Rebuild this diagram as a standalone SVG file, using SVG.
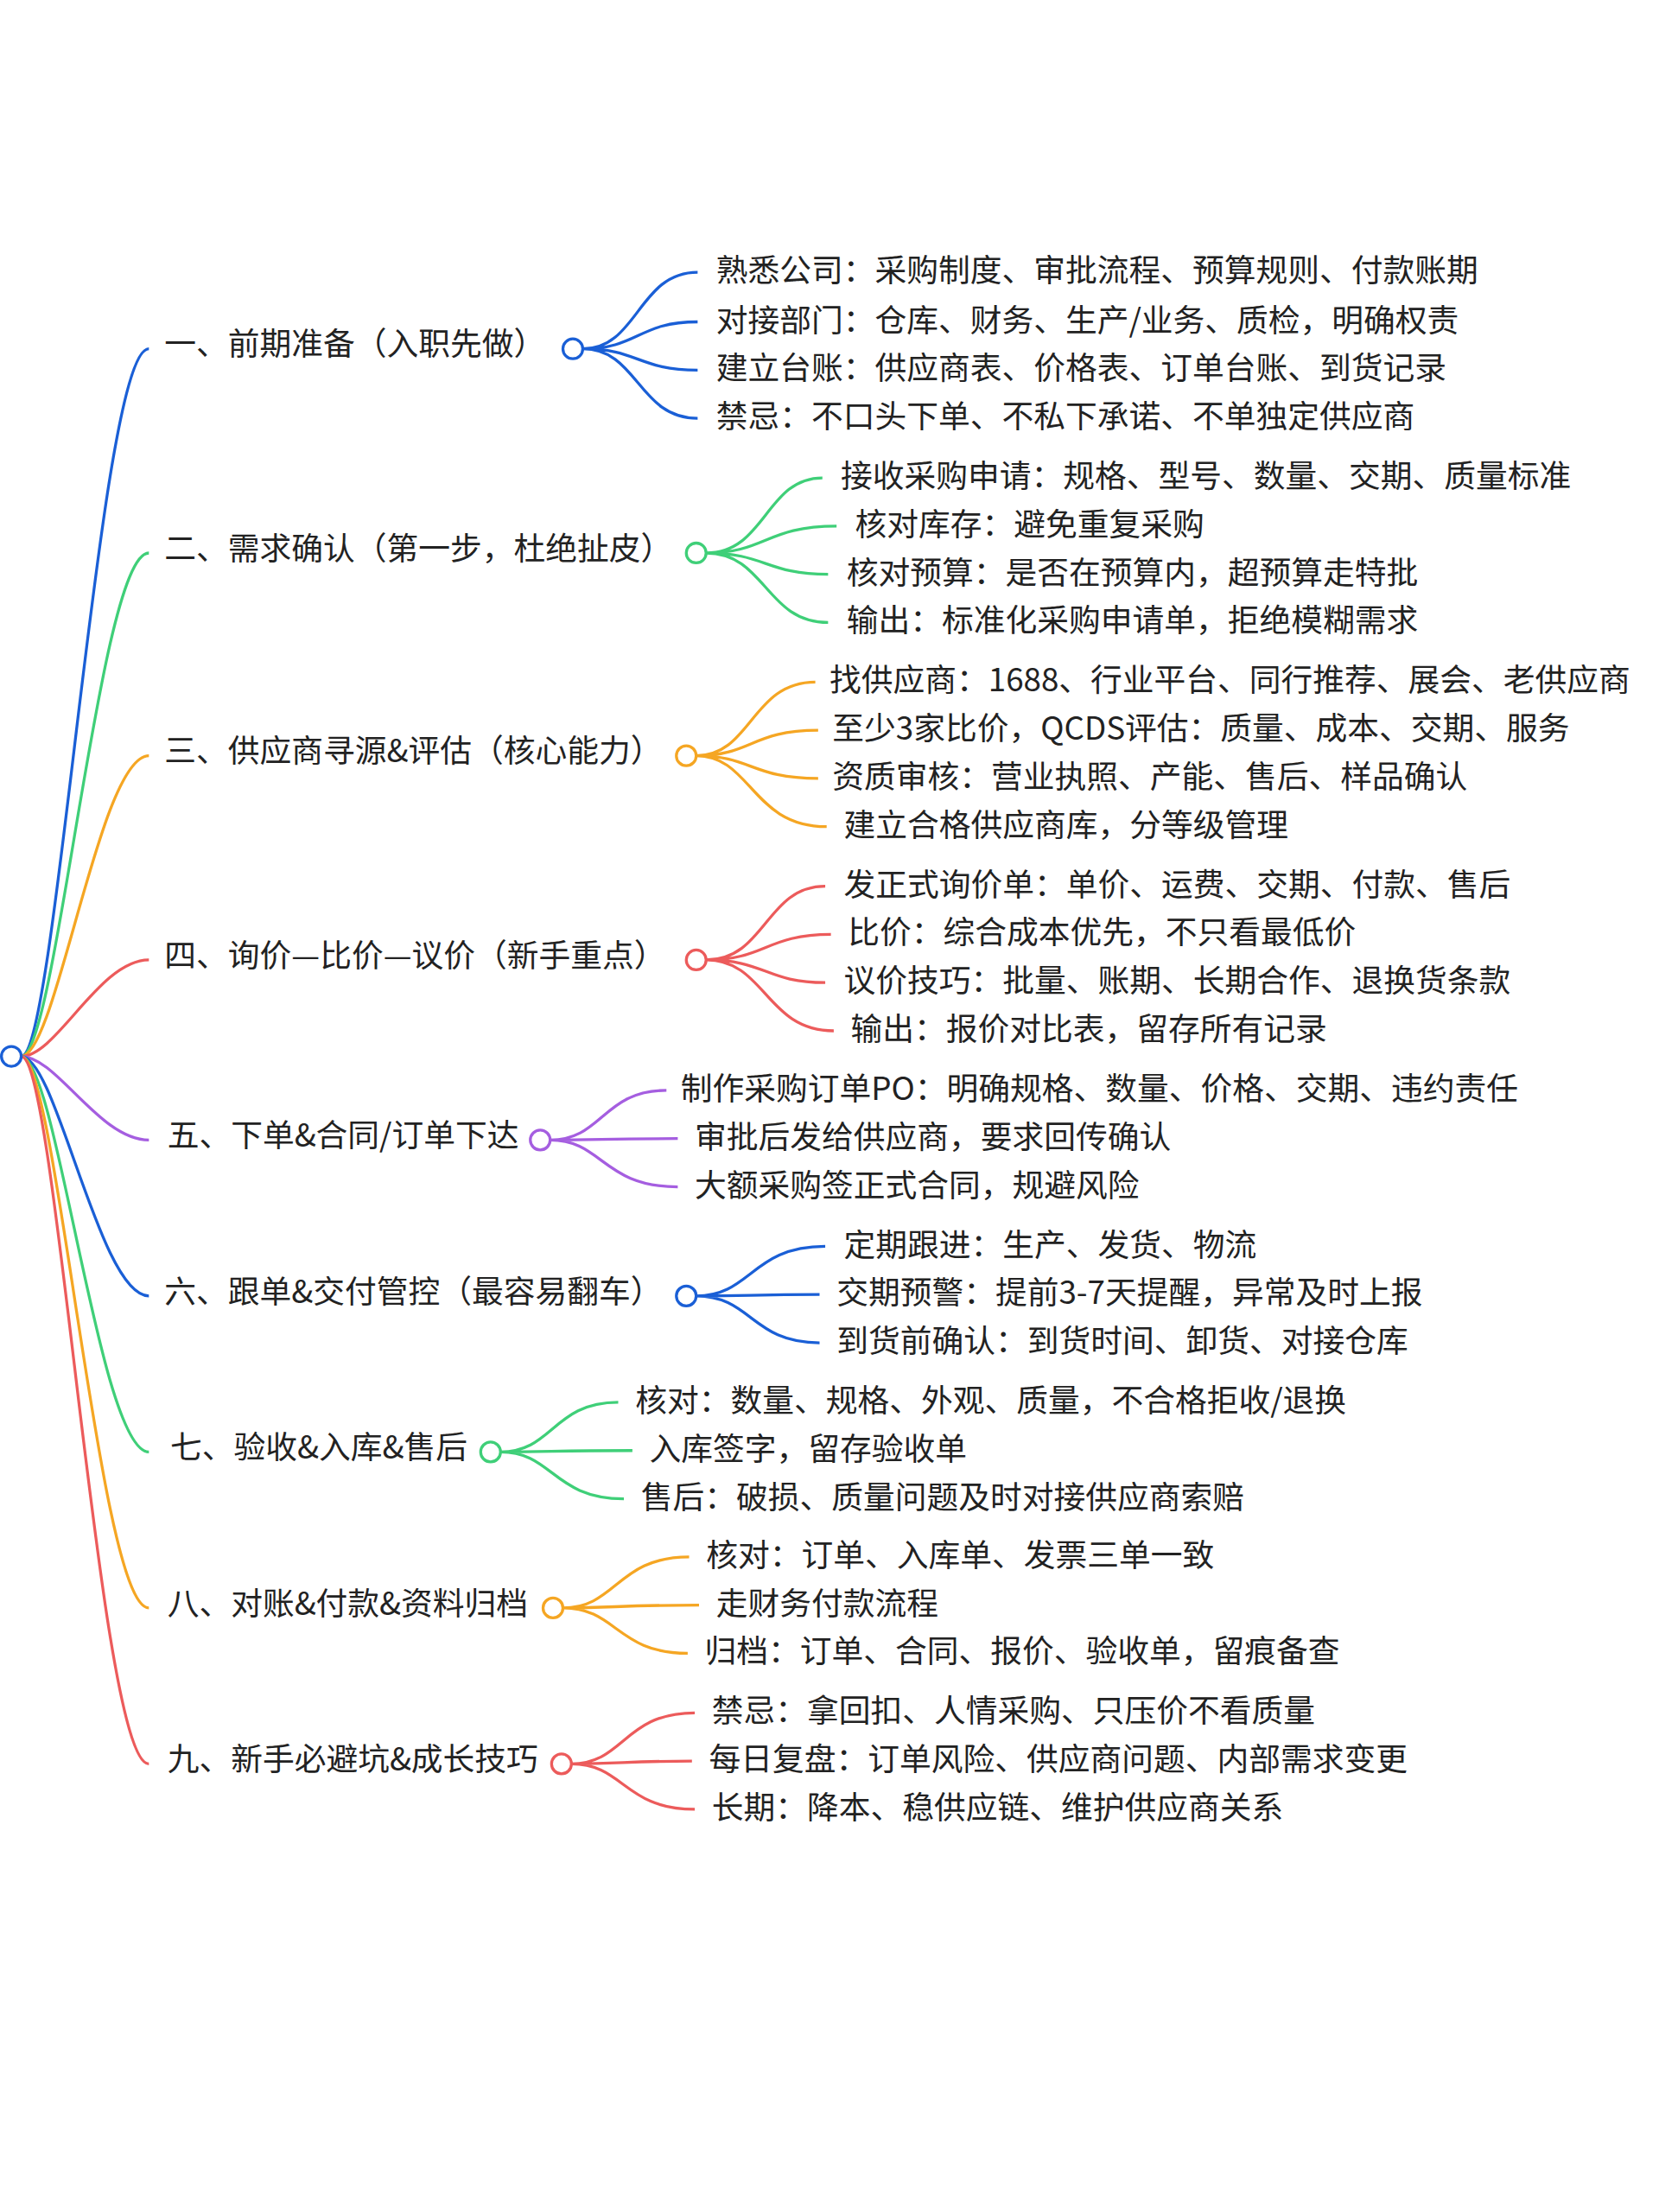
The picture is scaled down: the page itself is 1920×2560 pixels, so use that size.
<svg xmlns="http://www.w3.org/2000/svg" width="1920" height="2560" viewBox="0 0 1920 2560">
<style>
text{font-family:"Noto Sans CJK SC","Noto Sans",sans-serif;font-size:22.4px;fill:#222;dominant-baseline:central;transform:translateY(-3px)}
path{fill:none;stroke-width:2}
circle{fill:#fff;stroke-width:2}
.b{stroke:#1a5fd6}.g{stroke:#3fcf78}.o{stroke:#f5a623}.r{stroke:#ec5b5b}.p{stroke:#a55ee0}
</style>
<rect width="1920" height="2560" fill="#fff"/>
<g transform="scale(1.641)">
<g id="connectors">
<path class="b" d="M15,745 C40,745 70,246 105,246"/>
<path class="g" d="M15,745 C40,745 70,390 105,390"/>
<path class="o" d="M15,745 C40,745 70,533 105,533"/>
<path class="r" d="M15,745 C40,745 70,677 105,677"/>
<path class="p" d="M15,745 C40,745 70,804 105,804"/>
<path class="b" d="M15,745 C40,745 70,914 105,914"/>
<path class="g" d="M15,745 C40,745 70,1024 105,1024"/>
<path class="o" d="M15,745 C40,745 70,1134 105,1134"/>
<path class="r" d="M15,745 C40,745 70,1244 105,1244"/>
<path class="b" d="M411,246 C450,246 450,192 492,192 M411,246 C450,246 450,227 492,227 M411,246 C450,246 450,261 492,261 M411,246 C450,246 450,295 492,295"/>
<path class="g" d="M498,390 C540,390 540,337 580,337 M498,390 C540,390 540,371 590,371 M498,390 C540,390 540,405 584,405 M498,390 C540,390 540,439 584,439"/>
<path class="o" d="M491,533 C530,533 530,481 575,481 M491,533 C530,533 530,515 577,515 M491,533 C530,533 530,549 577,549 M491,533 C530,533 530,583 583,583"/>
<path class="r" d="M498,677 C540,677 540,625 582,625 M498,677 C540,677 540,659 586,659 M498,677 C540,677 540,693 582,693 M498,677 C540,677 540,727 588,727"/>
<path class="p" d="M388,804 C425,804 425,769 470,769 M388,804 C425,804 425,803 478,803 M388,804 C425,804 425,837 478,837"/>
<path class="b" d="M491,914 C530,914 530,879 582,879 M491,914 C530,914 530,913 578,913 M491,914 C530,914 530,947 578,947"/>
<path class="g" d="M353,1024 C390,1024 390,989 436,989 M353,1024 C390,1024 390,1023 446,1023 M353,1024 C390,1024 390,1057 440,1057"/>
<path class="o" d="M397,1134 C435,1134 435,1098 486,1098 M397,1134 C435,1134 435,1132 493,1132 M397,1134 C435,1134 435,1166 485,1166"/>
<path class="r" d="M403,1244 C440,1244 440,1208 490,1208 M403,1244 C440,1244 440,1242 488,1242 M403,1244 C440,1244 440,1276 490,1276"/>
</g>
<g id="root"><circle class="b" cx="8" cy="745" r="7"/></g>
<g id="n1"><text x="116" y="244">一、前期准备（入职先做）</text><circle class="b" cx="404" cy="246" r="7"/>
<text x="505" y="192">熟悉公司：采购制度、审批流程、预算规则、付款账期</text>
<text x="505" y="227">对接部门：仓库、财务、生产/业务、质检，明确权责</text>
<text x="505" y="261">建立台账：供应商表、价格表、订单台账、到货记录</text>
<text x="505" y="295">禁忌：不口头下单、不私下承诺、不单独定供应商</text></g>
<g id="n2"><text x="116" y="388">二、需求确认（第一步，杜绝扯皮）</text><circle class="g" cx="491" cy="390" r="7"/>
<text x="593" y="337">接收采购申请：规格、型号、数量、交期、质量标准</text>
<text x="603" y="371">核对库存：避免重复采购</text>
<text x="597" y="405">核对预算：是否在预算内，超预算走特批</text>
<text x="597" y="439">输出：标准化采购申请单，拒绝模糊需求</text></g>
<g id="n3"><text x="116" y="531">三、供应商寻源&amp;评估（核心能力）</text><circle class="o" cx="484" cy="533" r="7"/>
<text x="585" y="481">找供应商：1688、行业平台、同行推荐、展会、老供应商</text>
<text x="587" y="515">至少3家比价，QCDS评估：质量、成本、交期、服务</text>
<text x="587" y="549">资质审核：营业执照、产能、售后、样品确认</text>
<text x="595" y="583">建立合格供应商库，分等级管理</text></g>
<g id="n4"><text x="116" y="675">四、询价—比价—议价（新手重点）</text><circle class="r" cx="491" cy="677" r="7"/>
<text x="595" y="625">发正式询价单：单价、运费、交期、付款、售后</text>
<text x="598" y="659">比价：综合成本优先，不只看最低价</text>
<text x="595" y="693">议价技巧：批量、账期、长期合作、退换货条款</text>
<text x="600" y="727">输出：报价对比表，留存所有记录</text></g>
<g id="n5"><text x="118" y="802">五、下单&amp;合同/订单下达</text><circle class="p" cx="381" cy="804" r="7"/>
<text x="480" y="769">制作采购订单PO：明确规格、数量、价格、交期、违约责任</text>
<text x="490" y="803">审批后发给供应商，要求回传确认</text>
<text x="490" y="837">大额采购签正式合同，规避风险</text></g>
<g id="n6"><text x="116" y="912">六、跟单&amp;交付管控（最容易翻车）</text><circle class="b" cx="484" cy="914" r="7"/>
<text x="595" y="879">定期跟进：生产、发货、物流</text>
<text x="590" y="913">交期预警：提前3-7天提醒，异常及时上报</text>
<text x="590" y="947">到货前确认：到货时间、卸货、对接仓库</text></g>
<g id="n7"><text x="120" y="1022">七、验收&amp;入库&amp;售后</text><circle class="g" cx="346" cy="1024" r="7"/>
<text x="448" y="989">核对：数量、规格、外观、质量，不合格拒收/退换</text>
<text x="458" y="1023">入库签字，留存验收单</text>
<text x="452" y="1057">售后：破损、质量问题及时对接供应商索赔</text></g>
<g id="n8"><text x="118" y="1132">八、对账&amp;付款&amp;资料归档</text><circle class="o" cx="390" cy="1134" r="7"/>
<text x="498" y="1098">核对：订单、入库单、发票三单一致</text>
<text x="505" y="1132">走财务付款流程</text>
<text x="497" y="1166">归档：订单、合同、报价、验收单，留痕备查</text></g>
<g id="n9"><text x="118" y="1242">九、新手必避坑&amp;成长技巧</text><circle class="r" cx="396" cy="1244" r="7"/>
<text x="502" y="1208">禁忌：拿回扣、人情采购、只压价不看质量</text>
<text x="500" y="1242">每日复盘：订单风险、供应商问题、内部需求变更</text>
<text x="502" y="1276">长期：降本、稳供应链、维护供应商关系</text></g>
</g>
</svg>
